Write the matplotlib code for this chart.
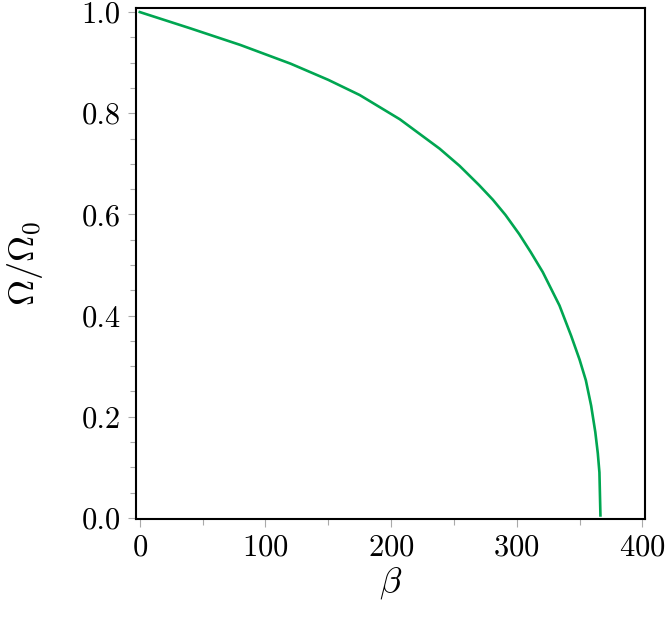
import numpy as np
import matplotlib
matplotlib.use("Agg")
import matplotlib.pyplot as plt
from matplotlib.ticker import MultipleLocator, FormatStrFormatter

# valeurs
beta = [0, 40, 80, 120, 150, 175, 207, 238.6, 254.5, 270, 281, 291, 302, 311,
        320.7, 334, 343.3, 350, 355, 359.2, 362.5, 364.5, 365.8, 366.6]
omega = [1.0, 0.968, 0.935, 0.898, 0.866, 0.836, 0.788, 0.730, 0.696, 0.658, 0.629, 0.599, 0.561, 0.526,
         0.486, 0.42, 0.36, 0.313, 0.272, 0.222, 0.170, 0.128, 0.090, 0.005]

plt.rcParams['font.family'] = 'serif'
plt.rcParams['font.serif'] = ['cmr10', 'DejaVu Serif']
plt.rcParams['mathtext.fontset'] = 'cm'
plt.rcParams['axes.formatter.use_mathtext'] = True

fig = plt.figure(figsize=(6.69, 6.21), dpi=100)
ax = fig.add_axes([0.2033, 0.1643, 0.7607, 0.8228])

ax.plot(beta, omega, color='#00a651', lw=1.9)

ax.set_xlim(-3, 402)
ax.set_ylim(-0.002, 1.008)
ax.xaxis.set_major_locator(MultipleLocator(100))
ax.xaxis.set_minor_locator(MultipleLocator(50))
ax.yaxis.set_major_locator(MultipleLocator(0.2))
ax.yaxis.set_minor_locator(MultipleLocator(0.05))
ax.yaxis.set_major_formatter(FormatStrFormatter('%.1f'))

for s in ax.spines.values():
    s.set_linewidth(1.5)
ax.tick_params(which='both', direction='out', color='#aaaaaa', width=0.8, labelsize=22)
ax.tick_params(which='major', length=6, pad=5)
ax.tick_params(which='minor', length=4)

ax.set_xlabel(r'$\beta$', fontsize=26, va='center')
ax.set_ylabel(r'$\Omega/\Omega_0$', fontsize=26, va='center')
ax.xaxis.set_label_coords(0.5, -0.125)
ax.yaxis.set_label_coords(-0.218, 0.5)

fig.savefig('out.png', dpi=100)
